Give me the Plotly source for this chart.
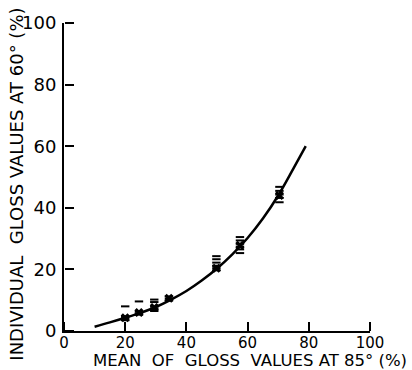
import plotly.graph_objects as go

# Fitted curve
curve_x = [10, 15, 20, 25, 30, 35, 40, 45, 50, 55, 60, 65, 70, 75, 79]
curve_y = [1.4, 2.8, 4.3, 5.9, 7.8, 10.2, 13.0, 16.4, 20.3, 24.9, 30.2, 36.5, 44.0, 52.8, 60.0]

# Individual gloss values (60°) for each mean at 85°
group_x = [20.0, 24.5, 29.5, 34.3, 49.8, 57.5, 70.4]
group_vals = [
    [3.5, 4.2, 4.8, 8.0],
    [5.3, 5.8, 6.4, 9.6],
    [6.5, 7.2, 7.9, 9.4, 10.2],
    [9.9, 10.5, 11.2],
    [19.7, 20.4, 21.2, 22.2, 23.3, 24.3],
    [25.3, 26.5, 27.4, 28.3, 29.4, 30.5],
    [41.8, 43.2, 44.3, 45.5, 46.8],
]
group_mean = [4.3, 6.0, 7.6, 10.6, 20.4, 27.8, 44.0]

tick_vals = [0, 20, 40, 60, 80, 100]
tick_text = ["0", "20", "40", "60", "80", "100"]

pts_x, pts_y = [], []
for gx, vals in zip(group_x, group_vals):
    for v in vals:
        pts_x.append(gx)
        pts_y.append(v)

fig = go.Figure()
fig.add_trace(go.Scatter(x=curve_x, y=curve_y, mode="lines",
                         line=dict(color="black", width=2.5, shape="spline"),
                         hoverinfo="skip"))
fig.add_trace(go.Scatter(x=pts_x, y=pts_y, mode="markers",
                         marker=dict(symbol="line-ew", size=6,
                                     line=dict(color="black", width=2))))
fig.add_trace(go.Scatter(x=group_x, y=group_mean, mode="markers",
                         marker=dict(symbol="x", size=8, color="black",
                                     line=dict(width=0))))
# invisible trace so the tick-only overlay axes are drawn
fig.add_trace(go.Scatter(x=[curve_x[0]], y=[curve_y[0]], xaxis="x2", yaxis="y2",
                         mode="markers", marker=dict(opacity=0), hoverinfo="skip"))

font = "DejaVu Sans"
tick_axis = dict(range=[0, 100], tickmode="array", tickvals=tick_vals,
                 ticks="outside", ticklen=9, tickwidth=2, tickcolor="black",
                 showticklabels=False, showline=False, showgrid=False,
                 zeroline=False, anchor="free", position=0)

fig.update_layout(
    width=412, height=370,
    margin=dict(l=64, r=42, t=19, b=39),
    paper_bgcolor="white", plot_bgcolor="white",
    showlegend=False,
    xaxis=dict(range=[0, 100], tickmode="array", tickvals=tick_vals, ticktext=tick_text,
               ticks="", showline=True, linecolor="black", linewidth=2,
               showgrid=False, zeroline=False, ticklabelstandoff=-3,
               tickfont=dict(family=font, size=15, color="black")),
    yaxis=dict(range=[0, 100], tickmode="array", tickvals=tick_vals, ticktext=tick_text,
               ticks="", showline=True, linecolor="black", linewidth=2,
               showgrid=False, zeroline=False, ticklabelstandoff=2,
               tickfont=dict(family=font, size=18, color="black")),
    xaxis2=dict(**tick_axis, overlaying="x", side="top"),
    yaxis2=dict(**tick_axis, overlaying="y", side="right"),
    annotations=[
        dict(text="MEAN  OF  GLOSS  VALUES AT 85° (%)", xref="paper", yref="paper",
             x=0.607, y=-0.083, xanchor="center", yanchor="middle", showarrow=False,
             yshift=-4, font=dict(family=font, size=16.5, color="black")),
        dict(text="INDIVIDUAL  GLOSS VALUES AT 60° (%)", xref="paper", yref="paper",
             x=-0.155, y=0.477, xanchor="center", yanchor="middle", showarrow=False,
             textangle=-90, font=dict(family=font, size=18, color="black")),
    ],
)

fig.write_html("out.html")
